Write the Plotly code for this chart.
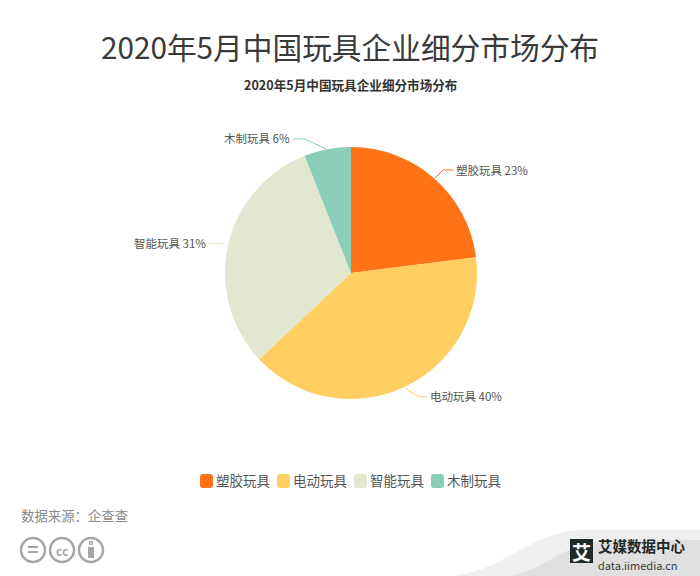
import plotly.graph_objects as go

W = 700
H = 576
FONT = 'Noto Sans CJK SC'

title = '2020年5月中国玩具企业细分市场分布'
source = '数据来源：企查查'
categories = ['塑胶玩具', '电动玩具', '智能玩具', '木制玩具']
shares = [23, 40, 31, 6]
colors = ['#FF7216', '#FFCF62', '#E2E8D0', '#8ACDB9']


def px(x):
    return x / W


def py(y):
    return 1 - y / H


def text(x, y, s, size, color='#555555', anchor='center', bold=False):
    if bold:
        s = f'<b>{s}</b>'
    return dict(x=px(x), y=py(y), xref='paper', yref='paper', text=s, showarrow=False,
                xanchor=anchor, yanchor='middle', borderpad=0,
                font=dict(family=FONT, size=size, color=color))


def line(points, color, width=1):
    path = 'M ' + ' L '.join(f'{px(x)} {py(y)}' for x, y in points)
    return dict(type='path', path=path, xref='paper', yref='paper',
                line=dict(color=color, width=width))


def circle(cx, cy, r, color='#A6A6A6', width=2.5):
    return dict(type='circle', xref='paper', yref='paper',
                x0=px(cx - r), x1=px(cx + r), y0=py(cy + r), y1=py(cy - r),
                line=dict(color=color, width=width))


def rect(x0, y0, x1, y1, color):
    return dict(type='rect', xref='paper', yref='paper', x0=px(x0), x1=px(x1), y0=py(y1), y1=py(y0),
                fillcolor=color, line=dict(width=0))


def round_rect(x0, y0, x1, y1, r, color):
    # Legend swatch with soft corners.
    def p(x, y):
        return f'{px(x)} {py(y)}'
    d = (f'M {p(x0 + r, y0)} L {p(x1 - r, y0)} Q {p(x1, y0)} {p(x1, y0 + r)} '
         f'L {p(x1, y1 - r)} Q {p(x1, y1)} {p(x1 - r, y1)} '
         f'L {p(x0 + r, y1)} Q {p(x0, y1)} {p(x0, y1 - r)} '
         f'L {p(x0, y0 + r)} Q {p(x0, y0)} {p(x0 + r, y0)} Z')
    return dict(type='path', path=d, xref='paper', yref='paper', fillcolor=color, line=dict(width=0))


def swoosh(points, color):
    d = f'M {px(points[0][0])} {py(points[0][1])} '
    d += f'C {px(points[1][0])} {py(points[1][1])} {px(points[2][0])} {py(points[2][1])} {px(points[3][0])} {py(points[3][1])} '
    d += f'L {px(700)} {py(points[3][1])} L {px(700)} {py(576)} Z'
    return dict(type='path', path=d, xref='paper', yref='paper', fillcolor=color, line=dict(width=0))


pie = go.Pie(
    labels=categories,
    values=shares,
    sort=False,
    direction='clockwise',
    rotation=0,
    textinfo='none',
    hoverinfo='label+percent',
    showlegend=False,
    marker=dict(colors=colors, line=dict(width=0)),
    domain=dict(x=[px(351 - 126), px(351 + 126)], y=[py(273 + 126), py(273 - 126)]),
)

shapes = [
    # Footer swoosh goes under everything else.
    swoosh([(450, 576), (505, 572), (530, 530), (585, 530)], '#EFEFEF'),
    swoosh([(510, 576), (545, 570), (565, 542), (610, 540)], '#E0E0E0'),
    # Leader lines.
    line([(453, 170), (443, 170), (435, 178)], colors[0]),
    line([(427, 397), (417, 396), (405, 388)], colors[1]),
    line([(208, 243), (225, 244)], colors[2]),
    line([(293, 139), (305, 139), (326, 149)], colors[3]),
    # Licence badges.
    circle(33, 550, 12),
    circle(62, 550, 12),
    circle(91, 550, 12),
    rect(28, 546, 38, 548, '#A6A6A6'),
    rect(28, 551, 38, 553, '#A6A6A6'),
    rect(88, 547, 94, 558, '#A6A6A6'),
    circle(91, 543, 1.5, width=1.5),
    # Logo block.
    rect(570, 539, 593, 563, '#1E2A28'),
]

annotations = [
    text(349.5, 47, title, 29.7, '#3A3A3A'),
    text(350, 85, title, 12.6, '#333333', bold=True),
    text(455, 170, f'{categories[0]} {shares[0]}%', 11.5, anchor='left'),
    text(429, 396, f'{categories[1]} {shares[1]}%', 11.5, anchor='left'),
    text(207, 243, f'{categories[2]} {shares[2]}%', 11.5, anchor='right'),
    text(291, 138, f'{categories[3]} {shares[3]}%', 11.5, anchor='right'),
    text(20, 515, source, 13.4, '#888888', anchor='left'),
    text(62, 550, '<b>cc</b>', 12, '#A6A6A6'),
    text(581.5, 551, '艾', 19, '#FFFFFF', bold=True),
    text(597, 545, '艾媒数据中心', 14.5, '#1E2A28', anchor='left', bold=True),
    text(597, 564.5, 'data.iimedia.cn', 11, '#3A3A3A', anchor='left'),
]

# Legend row drawn by hand, the built-in one cannot get this tight.
for i, (name, color) in enumerate(zip(categories, colors)):
    x = 200 + 77 * i
    shapes.append(round_rect(x, 474, x + 13, 488, 3, color))
    annotations.append(text(x + 15, 480, name, 13.5, anchor='left'))

fig = go.Figure(data=[pie])
fig.update_layout(
    width=W,
    height=H,
    margin=dict(l=0, r=0, t=0, b=0),
    paper_bgcolor='#FFFFFF',
    font=dict(family=FONT),
    shapes=shapes,
    annotations=annotations,
)
fig.write_html('out.html', config={'displayModeBar': False},
               post_script="document.body.style.margin='0';")
